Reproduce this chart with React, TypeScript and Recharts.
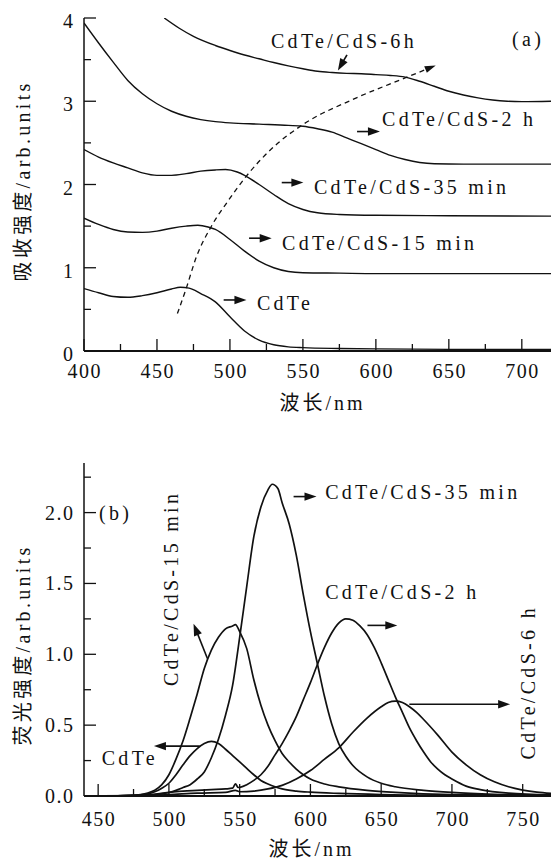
import React from "react";
import { LineChart, Line, XAxis, YAxis, ReferenceLine, ReferenceDot } from "recharts";

const FONT = "Liberation Serif";
const CJK = "Noto Sans CJK SC";
const INK = "#111";

// (a) absorption spectra, [wavelength nm, absorbance]
const absCdTe: [number, number][] = [
  [400, 0.75], [410, 0.7], [420, 0.655], [430, 0.645], [440, 0.665], [450, 0.7], [460, 0.745],
  [466, 0.765], [472, 0.755], [480, 0.69], [490, 0.59], [500, 0.41], [510, 0.24], [520, 0.13],
  [530, 0.075], [540, 0.05], [550, 0.04], [575, 0.03], [600, 0.025], [650, 0.02], [720, 0.02],
];
const abs15: [number, number][] = [
  [400, 1.595], [410, 1.52], [420, 1.46], [430, 1.43], [440, 1.425], [450, 1.44], [460, 1.475],
  [470, 1.5], [478, 1.51], [485, 1.49], [490, 1.46], [500, 1.34], [510, 1.2], [520, 1.08],
  [530, 1.0], [540, 0.955], [550, 0.94], [575, 0.935], [600, 0.93], [650, 0.93], [720, 0.93],
];
const abs35: [number, number][] = [
  [400, 2.42], [410, 2.33], [420, 2.26], [430, 2.2], [440, 2.14], [450, 2.11], [460, 2.11],
  [470, 2.13], [480, 2.16], [490, 2.175], [497, 2.18], [505, 2.15], [510, 2.11], [520, 2.0],
  [530, 1.88], [540, 1.77], [550, 1.7], [560, 1.66], [575, 1.64], [600, 1.63], [650, 1.625], [720, 1.62],
];
const abs2h: [number, number][] = [
  [400, 3.94], [410, 3.7], [420, 3.47], [430, 3.25], [440, 3.09], [450, 2.97], [460, 2.88],
  [470, 2.82], [480, 2.78], [490, 2.755], [500, 2.74], [520, 2.725], [540, 2.71], [550, 2.7],
  [560, 2.67], [570, 2.63], [580, 2.56], [590, 2.49], [600, 2.42], [610, 2.35], [620, 2.3],
  [630, 2.265], [640, 2.25], [660, 2.245], [720, 2.245],
];
const abs6h: [number, number][] = [
  [455, 4.0], [465, 3.88], [475, 3.78], [490, 3.67], [500, 3.61], [510, 3.555], [520, 3.51],
  [530, 3.465], [540, 3.425], [550, 3.39], [560, 3.36], [570, 3.345], [580, 3.335], [590, 3.33],
  [600, 3.32], [610, 3.31], [620, 3.29], [630, 3.24], [640, 3.18], [650, 3.12], [660, 3.075],
  [670, 3.04], [680, 3.015], [690, 3.0], [700, 2.995], [720, 3.0],
];
const absGuide: [number, number][] = [
  [464, 0.45], [470, 0.75], [477, 1.13], [487, 1.49], [499, 1.81], [511, 2.095], [528, 2.42],
  [550, 2.72], [584, 3.02], [620, 3.28], [641, 3.43],
];

// (b) photoluminescence spectra
const plCdTe: [number, number][] = [
  [440, 0], [470, 0.003], [480, 0.008], [485, 0.015], [490, 0.03], [495, 0.055], [500, 0.09],
  [505, 0.15], [510, 0.22], [515, 0.285], [520, 0.335], [525, 0.37], [530, 0.385], [535, 0.37],
  [540, 0.33], [545, 0.285], [550, 0.24], [555, 0.195], [560, 0.15], [565, 0.11], [570, 0.085],
  [575, 0.065], [580, 0.05], [590, 0.035], [600, 0.027], [620, 0.018], [650, 0.01], [700, 0.005], [770, 0.003],
];
const pl15: [number, number][] = [
  [440, 0], [470, 0.003], [480, 0.01], [485, 0.02], [490, 0.04], [495, 0.08], [500, 0.15],
  [505, 0.26], [510, 0.39], [515, 0.55], [520, 0.72], [525, 0.9], [530, 1.03], [535, 1.12],
  [540, 1.18], [545, 1.2], [547, 1.21], [550, 1.16], [555, 1.04], [560, 0.82], [565, 0.64],
  [570, 0.5], [575, 0.39], [580, 0.3], [585, 0.24], [590, 0.19], [595, 0.15], [600, 0.12],
  [610, 0.085], [620, 0.065], [640, 0.04], [660, 0.025], [700, 0.01], [770, 0.005],
];
const pl35: [number, number][] = [
  [440, 0], [480, 0.005], [490, 0.01], [500, 0.025], [505, 0.04], [510, 0.06], [515, 0.08],
  [520, 0.12], [525, 0.17], [530, 0.27], [535, 0.4], [540, 0.57], [545, 0.78], [550, 1.12],
  [555, 1.48], [560, 1.83], [565, 2.04], [570, 2.16], [573, 2.2], [577, 2.17], [580, 2.07],
  [585, 1.92], [590, 1.7], [595, 1.42], [600, 1.16], [605, 0.93], [610, 0.7], [615, 0.51],
  [620, 0.37], [625, 0.28], [630, 0.215], [640, 0.135], [650, 0.09], [660, 0.065], [680, 0.04],
  [700, 0.025], [730, 0.012], [770, 0.005],
];
const pl2h: [number, number][] = [
  [440, 0], [480, 0.005], [500, 0.025], [510, 0.035], [520, 0.04], [530, 0.045], [540, 0.05],
  [545, 0.055], [547, 0.085], [549, 0.06], [555, 0.08], [560, 0.11], [565, 0.15], [570, 0.21],
  [575, 0.29], [580, 0.37], [585, 0.46], [590, 0.56], [595, 0.68], [600, 0.8], [605, 0.93],
  [610, 1.05], [615, 1.15], [620, 1.22], [625, 1.25], [630, 1.24], [635, 1.2], [640, 1.14],
  [645, 1.05], [650, 0.94], [655, 0.82], [660, 0.7], [665, 0.59], [670, 0.48], [675, 0.39],
  [680, 0.31], [685, 0.24], [690, 0.19], [695, 0.15], [700, 0.12], [710, 0.07], [720, 0.045],
  [740, 0.02], [770, 0.008],
];
const pl6h: [number, number][] = [
  [440, 0], [480, 0.003], [500, 0.01], [520, 0.02], [540, 0.025], [547, 0.04], [550, 0.03],
  [560, 0.035], [570, 0.05], [580, 0.075], [590, 0.12], [600, 0.18], [610, 0.26], [620, 0.34],
  [630, 0.45], [640, 0.55], [650, 0.63], [655, 0.66], [660, 0.67], [665, 0.66], [670, 0.63],
  [675, 0.59], [680, 0.54], [690, 0.43], [700, 0.31], [710, 0.22], [720, 0.15], [730, 0.1],
  [740, 0.065], [750, 0.042], [760, 0.027], [770, 0.018],
];

// axis ticks
const absXTicks = [400, 425, 450, 475, 500, 525, 550, 575, 600, 625, 650, 675, 700];
const absYTicks = [0, 0.5, 1, 1.5, 2, 2.5, 3, 3.5, 4];
const plXTicks = [450, 475, 500, 525, 550, 575, 600, 625, 650, 675, 700, 725, 750];
const plYTicks = [0, 0.25, 0.5, 0.75, 1, 1.25, 1.5, 1.75, 2, 2.25];

// annotations (data coordinates)
const absLabels = [
  { x: 528.1, y: 3.72, text: "CdTe/CdS-6h" },
  { x: 604.2, y: 2.776, text: "CdTe/CdS-2 h" },
  { x: 557.6, y: 1.959, text: "CdTe/CdS-35 min" },
  { x: 535.7, y: 1.294, text: "CdTe/CdS-15 min" },
  { x: 518.5, y: 0.573, text: "CdTe" },
  { x: 693.3, y: 3.738, text: "(a)" },
];
const absArrows = [
  { from: [580.2, 3.558], to: [574.0, 3.369] },
  { from: [587.1, 2.636], to: [602.8, 2.636] },
  { from: [535.5, 2.023], to: [550.3, 2.023] },
  { from: [513.1, 1.355], to: [528.6, 1.355] },
  { from: [495.7, 0.613], to: [511.3, 0.613] },
];
const plLabels = [
  { x: 450.6, y: 1.995, text: "(b)" },
  { x: 610.4, y: 2.143, text: "CdTe/CdS-35 min" },
  { x: 610.4, y: 1.439, text: "CdTe/CdS-2 h" },
  { x: 501.9, y: 1.465, text: "CdTe/CdS-15 min", vertical: true },
  { x: 753.8, y: 0.803, text: "CdTe/CdS-6 h", vertical: true },
  { x: 452.5, y: 0.265, text: "CdTe" },
];
const plArrows = [
  { from: [588.1, 2.113], to: [604.3, 2.113] },
  { from: [640.3, 1.204], to: [661.4, 1.204] },
  { from: [527.2, 0.97], to: [517.4, 1.216] },
  { from: [669.9, 0.648], to: [741.1, 0.648] },
  { from: [521.8, 0.352], to: [489.4, 0.352] },
];

const pts = (a: [number, number][]) => a.map(([x, y]) => ({ x, y }));

const txt = { fill: INK, fontFamily: FONT, fontSize: 20 };

const xTick = (isMajor: (v: number) => boolean, labelDy: number) => (p: any) => {
  const v = p.payload.value;
  const maj = isMajor(v);
  return (
    <g>
      <line x1={p.x} y1={p.y} x2={p.x} y2={p.y - (maj ? 12 : 7)} stroke={INK} strokeWidth={1.3} />
      {maj && (
        <text x={p.x + 0.8} y={p.y + labelDy} textAnchor="middle" letterSpacing={1.5} {...txt}>
          {v}
        </text>
      )}
    </g>
  );
};

const yTick = (isMajor: (v: number) => boolean, fmt: (v: number) => string, labelDy: number) => (p: any) => {
  const v = p.payload.value;
  const maj = isMajor(v);
  return (
    <g>
      <line x1={p.x} y1={p.y} x2={p.x + (maj ? 12 : 7)} y2={p.y} stroke={INK} strokeWidth={1.3} />
      {maj && (
        <text x={p.x - 9.5} y={p.y + labelDy} textAnchor="end" letterSpacing={1.5} {...txt}>
          {fmt(v)}
        </text>
      )}
    </g>
  );
};

const topTick = (p: any) => <line x1={p.x} y1={p.y} x2={p.x} y2={p.y + 2.5} stroke={INK} strokeWidth={1} />;
const rightTick = (p: any) => <line x1={p.x} y1={p.y} x2={p.x - 3} y2={p.y} stroke={INK} strokeWidth={1} />;

const arrowShape = (p: any) => {
  const { x1, y1, x2, y2 } = p;
  const dx = x2 - x1;
  const dy = y2 - y1;
  const L = Math.hypot(dx, dy) || 1;
  const ux = dx / L;
  const uy = dy / L;
  const head = 12;
  const half = 4.2;
  const bx = x2 - ux * head;
  const by = y2 - uy * head;
  return (
    <g>
      <line x1={x1} y1={y1} x2={bx + ux} y2={by + uy} stroke={INK} strokeWidth={1.6} />
      <polygon
        points={`${x2},${y2} ${bx - uy * half},${by + ux * half} ${bx + uy * half},${by - ux * half}`}
        fill={INK}
      />
    </g>
  );
};

const textShape = (text: string, vertical?: boolean) => (p: any) =>
  vertical ? (
    <text
      x={p.cx}
      y={p.cy}
      dy={6.5}
      textAnchor="middle"
      letterSpacing={3.3}
      transform={`rotate(-90 ${p.cx} ${p.cy})`}
      {...txt}
    >
      {text}
    </text>
  ) : (
    <text x={p.cx} y={p.cy} dy={6.5} textAnchor="start" letterSpacing={3.3} {...txt}>
      {text}
    </text>
  );

// Chinese part and Latin part in their own fonts
const mixed = (cn: string, latin: string) => [
  <tspan key="c" fontFamily={CJK}>{cn}</tspan>,
  <tspan key="l" fontFamily={FONT}>{latin}</tspan>,
];

const xTitle = (cn: string, latin: string, dx: number, dyFromAxis: number) => (props: any) => {
  const vb = props.viewBox || { x: 84, y: 351, width: 467 };
  const cx = vb.x + vb.width / 2 + dx;
  return (
    <text x={cx} y={vb.y + dyFromAxis} textAnchor="middle" letterSpacing={3} {...txt}>
      {mixed(cn, latin)}
    </text>
  );
};

const yTitle = (cn: string, latin: string, cyAbs: number) => () => (
  <text
    x={23}
    y={cyAbs}
    dy={7}
    textAnchor="middle"
    letterSpacing={3.3}
    transform={`rotate(-90 23 ${cyAbs})`}
    {...txt}
  >
    {mixed(cn, latin)}
  </text>
);

const arrowDot = (p: any) => {
  const { cx, cy, index, points } = p;
  if (index !== absGuide.length - 1) return <g key={`d${index}`} />;
  const prev = points && points[index - 1];
  const ang = prev ? Math.atan2(cy - prev.y, cx - prev.x) : -0.37;
  const ux = Math.cos(ang);
  const uy = Math.sin(ang);
  const bx = cx - ux * 11;
  const by = cy - uy * 11;
  return (
    <polygon
      key={`d${index}`}
      points={`${cx},${cy} ${bx - uy * 3.5},${by + ux * 3.5} ${bx + uy * 3.5},${by - ux * 3.5}`}
      fill={INK}
    />
  );
};

const series = (data: [number, number][], key: string, w = 1.4) => (
  <Line
    key={key}
    data={pts(data)}
    dataKey="y"
    type="monotone"
    stroke={INK}
    strokeWidth={w}
    dot={false}
    isAnimationActive={false}
  />
);

export default function App() {
  return (
    <div style={{ position: "absolute", left: 0, top: 0, width: 552, height: 860, background: "#fff" }}>
      <div style={{ position: "absolute", left: 0, top: 0 }}>
        <LineChart width={552} height={420} margin={{ top: 18, right: 1, bottom: 29, left: 0 }}>
          <XAxis
            dataKey="x"
            type="number"
            domain={[400, 720]}
            allowDataOverflow
            ticks={absXTicks}
            interval={0}
            height={40}
            tickSize={0}
            tickMargin={0}
            tick={xTick((v) => v % 50 === 0, 27)}
            axisLine={{ stroke: INK, strokeWidth: 1.8 }}
            label={{ content: xTitle("波长", "/nm", 5, 59) }}
          />
          <XAxis
            xAxisId="top"
            orientation="top"
            type="number"
            domain={[400, 720]}
            ticks={absXTicks.slice(1)}
            interval={0}
            height={0}
            tickSize={0}
            tickMargin={0}
            tick={topTick}
            axisLine={{ stroke: INK, strokeWidth: 1.4 }}
          />
          <YAxis
            type="number"
            domain={[0, 4]}
            allowDataOverflow
            ticks={absYTicks}
            interval={0}
            width={84}
            tickSize={0}
            tickMargin={0}
            tick={yTick((v) => Number.isInteger(v), (v) => String(v), 10)}
            axisLine={{ stroke: INK, strokeWidth: 1.5 }}
            label={{ content: yTitle("吸收强度", "/arb.units", 181) }}
          />
          <YAxis
            yAxisId="right"
            orientation="right"
            type="number"
            domain={[0, 4]}
            ticks={absYTicks.slice(1, -1)}
            interval={0}
            width={0}
            tickSize={0}
            tickMargin={0}
            tick={rightTick}
            axisLine={{ stroke: INK, strokeWidth: 1.4 }}
          />
          {series(absCdTe, "a0")}
          {series(abs15, "a15")}
          {series(abs35, "a35")}
          {series(abs2h, "a2h")}
          {series(abs6h, "a6h")}
          <Line
            data={pts(absGuide)}
            dataKey="y"
            type="monotone"
            stroke={INK}
            strokeWidth={1.3}
            strokeDasharray="5 4"
            dot={arrowDot}
            activeDot={false}
            isAnimationActive={false}
          />
          {absArrows.map((a, i) => (
            <ReferenceLine
              key={`aa${i}`}
              segment={[{ x: a.from[0], y: a.from[1] }, { x: a.to[0], y: a.to[1] }]}
              shape={arrowShape}
              ifOverflow="visible"
            />
          ))}
          {absLabels.map((l, i) => (
            <ReferenceDot key={`al${i}`} x={l.x} y={l.y} r={0} ifOverflow="visible" shape={textShape(l.text)} />
          ))}
        </LineChart>
      </div>
      <div style={{ position: "absolute", left: 0, top: 420 }}>
        <LineChart width={552} height={440} margin={{ top: 43, right: 1, bottom: 24, left: 0 }}>
          <XAxis
            dataKey="x"
            type="number"
            domain={[440, 770]}
            allowDataOverflow
            ticks={plXTicks}
            interval={0}
            height={40}
            tickSize={0}
            tickMargin={0}
            tick={xTick((v) => v % 50 === 0, 30)}
            axisLine={{ stroke: INK, strokeWidth: 2 }}
            label={{ content: xTitle("波长", "/nm", -6, 60) }}
          />
          <XAxis
            xAxisId="top"
            orientation="top"
            type="number"
            domain={[440, 770]}
            ticks={plXTicks}
            interval={0}
            height={0}
            tickSize={0}
            tickMargin={0}
            tick={topTick}
            axisLine={{ stroke: INK, strokeWidth: 1.4 }}
          />
          <YAxis
            type="number"
            domain={[0, 2.35]}
            allowDataOverflow
            ticks={plYTicks}
            interval={0}
            width={84}
            tickSize={0}
            tickMargin={0}
            tick={yTick((v) => Math.abs(v * 2 - Math.round(v * 2)) < 1e-6, (v) => v.toFixed(1), 7)}
            axisLine={{ stroke: INK, strokeWidth: 1.5 }}
            label={{ content: yTitle("荧光强度", "/arb.units", 645 - 420) }}
          />
          <YAxis
            yAxisId="right"
            orientation="right"
            type="number"
            domain={[0, 2.35]}
            ticks={plYTicks.slice(1)}
            interval={0}
            width={0}
            tickSize={0}
            tickMargin={0}
            tick={rightTick}
            axisLine={{ stroke: INK, strokeWidth: 1.4 }}
          />
          {series(plCdTe, "p0", 1.7)}
          {series(pl15, "p15", 1.7)}
          {series(pl35, "p35", 1.7)}
          {series(pl2h, "p2h", 1.7)}
          {series(pl6h, "p6h", 1.7)}
          {plArrows.map((a, i) => (
            <ReferenceLine
              key={`pa${i}`}
              segment={[{ x: a.from[0], y: a.from[1] }, { x: a.to[0], y: a.to[1] }]}
              shape={arrowShape}
              ifOverflow="visible"
            />
          ))}
          {plLabels.map((l, i) => (
            <ReferenceDot
              key={`pl${i}`}
              x={l.x}
              y={l.y}
              r={0}
              ifOverflow="visible"
              shape={textShape(l.text, l.vertical)}
            />
          ))}
        </LineChart>
      </div>
    </div>
  );
}
